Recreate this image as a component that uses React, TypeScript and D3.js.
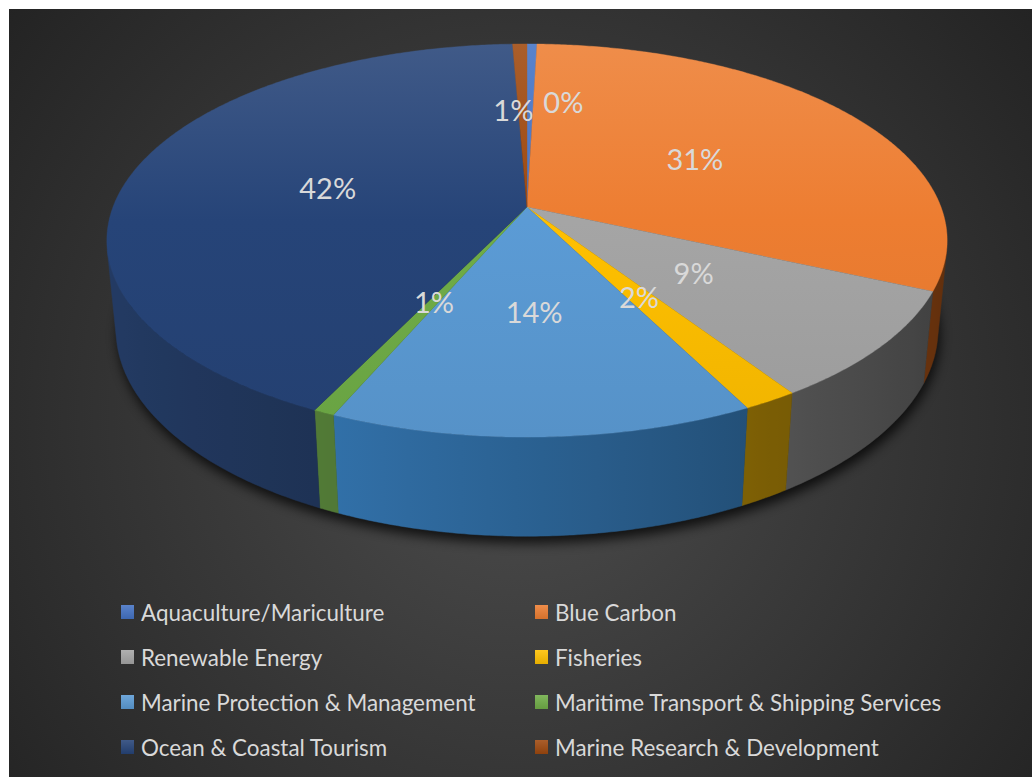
import React from 'react';
import * as d3 from 'd3';

const categories = [
  'Aquaculture/Mariculture',
  'Blue Carbon',
  'Renewable Energy',
  'Fisheries',
  'Marine Protection & Management',
  'Maritime Transport & Shipping Services',
  'Ocean & Coastal Tourism',
  'Marine Research & Development',
];
const values = [0.45, 31.3, 9.0, 1.8, 13.9, 0.7, 42.2, 0.65];
const colors = ['#4472C4', '#ED7D31', '#A5A5A5', '#FFC000', '#5B9BD5', '#70AD47', '#264478', '#9E480E'];

const W = 1032;
const H = 777;
// 3D projection parameters
const CX = 527;
const CY = 207;
const S = 414;
const TILT_S = 0.461;
const TILT_C = Math.sqrt(1 - TILT_S * TILT_S);
const DIST = 5.2;
const THICK = 0.243;

function project(X: number, Y: number, Z: number): [number, number] {
  const u = Y * TILT_C - Z * TILT_S;
  const w = Y * TILT_S + Z * TILT_C;
  const f = DIST / (DIST - w);
  return [CX + S * X * f, CY - S * u * f];
}
function rim(phi: number, r: number, Y: number): [number, number] {
  return project(r * Math.sin(phi), Y, -r * Math.cos(phi));
}
function shade(base: string, phi: number): string {
  const h = d3.hsl(base);
  const m = 0.62 - 0.24 * Math.sin(phi);
  return d3.hsl(h.h, h.s * 0.92, h.l * m).formatHex();
}

export default function App() {
  const total = d3.sum(values);
  const arcs = d3.pie<number>().sort(null).value((d) => d)(values);

  // front-facing wall range
  const lim = Math.acos(-1 / (DIST * TILT_C));
  const visL = lim;
  const visR = 2 * Math.PI - lim;

  const walls = arcs
    .map((a, i) => {
      const p0 = Math.max(a.startAngle, visL);
      const p1 = Math.min(a.endAngle, visR);
      if (p1 <= p0) return null;
      const n = Math.max(2, Math.ceil((p1 - p0) / (Math.PI / 360)));
      const topPts: [number, number][] = [];
      const botPts: [number, number][] = [];
      for (let k = 0; k <= n; k++) {
        const p = p0 + ((p1 - p0) * k) / n;
        topPts.push(rim(p, 1, 0));
        botPts.push(rim(p, 1, -THICK));
      }
      const pts = topPts.concat(botPts.reverse());
      const xa = rim(p0, 1, 0)[0];
      const xb = rim(p1, 1, 0)[0];
      const stops: { off: number; col: string }[] = [];
      const ns = 8;
      for (let k = 0; k <= ns; k++) {
        const p = p0 + ((p1 - p0) * k) / ns;
        const x = rim(p, 1, 0)[0];
        stops.push({ off: Math.abs(xb - xa) < 0.5 ? k / ns : (x - xa) / (xb - xa), col: shade(colors[i], p) });
      }
      return { d: 'M' + pts.map((p) => p.join(',')).join('L') + 'Z', i, xa, xb, stops };
    })
    .filter((w) => w !== null) as any[];

  // top faces
  const tops = arcs.map((a, i) => {
    const n = Math.max(2, Math.ceil((a.endAngle - a.startAngle) / (Math.PI / 360)));
    const pts: [number, number][] = [project(0, 0, 0)];
    for (let k = 0; k <= n; k++) {
      const p = a.startAngle + ((a.endAngle - a.startAngle) * k) / n;
      pts.push(rim(p, 1, 0));
    }
    return { d: 'M' + pts.map((p) => p.join(',')).join('L') + 'Z', i };
  });

  // shadow: bottom disk
  const shadowPts: [number, number][] = [];
  for (let k = 0; k < 360; k++) shadowPts.push(rim((k * Math.PI) / 180, 1, -THICK));
  const shadowD = 'M' + shadowPts.map((p) => p.join(',')).join('L') + 'Z';

  // labels
  const labels = arcs.map((a, i) => {
    const mid = (a.startAngle + a.endAngle) / 2;
    const [x, y] = rim(mid, 0.5, 0);
    const txt = Math.round((values[i] / total) * 100) + '%';
    return { x, y, txt, w: txt.length * 20 };
  });
  // simple collision resolution
  for (let iter = 0; iter < 20; iter++) {
    for (let i = 0; i < labels.length; i++) {
      for (let j = i + 1; j < labels.length; j++) {
        const A = labels[i];
        const B = labels[j];
        const need = (A.w + B.w) / 2 + 10;
        if (Math.abs(A.y - B.y) < 28 && Math.abs(A.x - B.x) < need - 0.5) {
          const mx = (A.x + B.x) / 2 + 12;
          const dir = A.x <= B.x ? -1 : 1;
          A.x = mx + (dir * need) / 2;
          B.x = mx - (dir * need) / 2;
          A.y -= 18;
          B.y -= 10;
        }
      }
    }
  }

  const legendCols = [121, 535];
  const legendRows = [612, 657, 702, 747];

  return (
    <div style={{ position: 'fixed', left: 0, top: 0, width: W, height: H, overflow: 'hidden', background: '#fff' }}>
      <svg width={W} height={H} style={{ display: 'block' }}>
        <defs>
          <radialGradient id="bg" gradientUnits="userSpaceOnUse" cx={520} cy={420} r={660}>
            <stop offset="0" stopColor="#4d4d4d" />
            <stop offset="1" stopColor="#232323" />
          </radialGradient>
          <filter id="blur" x="-20%" y="-20%" width="140%" height="140%">
            <feGaussianBlur stdDeviation="6" />
          </filter>
          {colors.map((c, i) => (
            <linearGradient key={'t' + i} id={'top' + i} gradientUnits="userSpaceOnUse" x1="0" y1="44" x2="0" y2="437">
              <stop offset="0" stopColor={d3.interpolateRgb(c, '#ffffff')(0.12)} />
              <stop offset="0.45" stopColor={c} />
              <stop offset="1" stopColor={d3.interpolateRgb(c, '#000000')(0.06)} />
            </linearGradient>
          ))}
          {walls.map((w) => (
            <linearGradient key={'w' + w.i} id={'wall' + w.i} gradientUnits="userSpaceOnUse" x1={w.xa} y1="0" x2={w.xb} y2="0">
              {w.stops.map((s: any, k: number) => (
                <stop key={k} offset={Math.max(0, Math.min(1, s.off))} stopColor={s.col} />
              ))}
            </linearGradient>
          ))}
          {colors.map((c, i) => (
            <linearGradient key={'l' + i} id={'leg' + i} x1="0" y1="0" x2="0" y2="1">
              <stop offset="0" stopColor={d3.interpolateRgb(c, '#ffffff')(0.12)} />
              <stop offset="1" stopColor={d3.interpolateRgb(c, '#000000')(0.1)} />
            </linearGradient>
          ))}
        </defs>
        <rect x={9} y={9} width={W - 9} height={H - 9} fill="url(#bg)" />
        <path d={shadowD} transform="translate(2,7)" fill="#000" opacity={0.75} filter="url(#blur)" />
        <g>
          {walls.map((w) => (
            <path key={w.i} d={w.d} fill={`url(#wall${w.i})`} stroke={`url(#wall${w.i})`} strokeWidth={0.5} />
          ))}
        </g>
        <g>
          {tops.map((t) => (
            <path key={t.i} d={t.d} fill={`url(#top${t.i})`} stroke={`url(#top${t.i})`} strokeWidth={0.4} />
          ))}
        </g>
        <g fontFamily="Lato, 'Open Sans', sans-serif" fontSize={29} fill="#d9d9d9" textAnchor="middle">
          {labels.map((l, i) => (
            <text key={i} x={l.x} y={l.y} dominantBaseline="central">
              {l.txt}
            </text>
          ))}
        </g>
        <g fontFamily="Lato, 'Open Sans', sans-serif" fontSize={22.4} fill="#d9d9d9">
          {categories.map((c, i) => {
            const col = i % 2;
            const row = Math.floor(i / 2);
            const x = legendCols[col];
            const y = legendRows[row];
            return (
              <g key={c}>
                <rect x={x} y={y - 7} width={13} height={14} fill={`url(#leg${i})`} />
                <text x={x + 20} y={y} dominantBaseline="central">
                  {c}
                </text>
              </g>
            );
          })}
        </g>
      </svg>
    </div>
  );
}
